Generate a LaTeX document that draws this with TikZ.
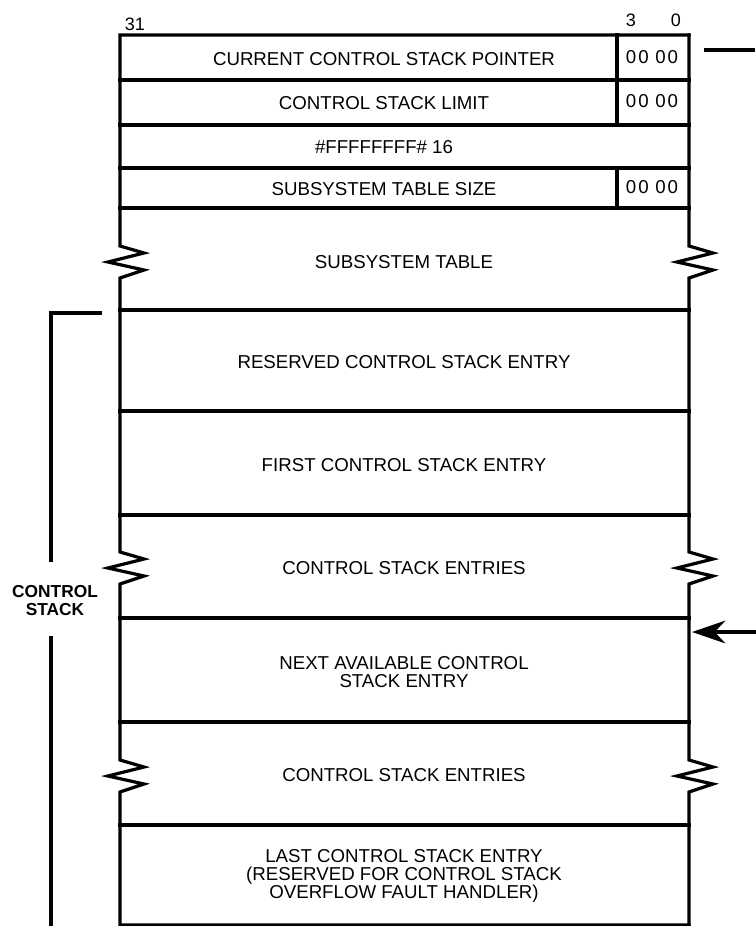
\documentclass[tikz,border=0pt]{standalone}
\usepackage{fontspec}
\setmainfont{Liberation Sans}
\usetikzlibrary{arrows.meta}

\newcommand\zigzag{-- ++(24,7) -- ++(-36,9) -- ++(36,8) -- ++(-24,8)}
\newcommand\zerobits{0\hspace{1.5pt}0\hspace{5pt}0\hspace{1.5pt}0}

\begin{document}
\begin{tikzpicture}[
        x=0.75pt, y=-0.75pt,
        frame/.style={line width=2.4pt, line cap=rect, line join=miter},
        field/.style={font=\fontsize{14}{13.5}\selectfont, align=center, inner sep=0pt},
        bitno/.style={font=\fontsize{13.5}{13.5}\selectfont, inner sep=0pt}
    ]
    \useasboundingbox (0,0) rectangle (756,926);
    \draw[frame] (689,35) -- (120,35) -- (120,246) \zigzag -- (120,552) \zigzag
        -- (120,760) \zigzag -- (120,925) -- (689,925);
    \draw[frame] (689,35) -- (689,246) \zigzag -- (689,552) \zigzag
        -- (689,760) \zigzag -- (689,925);
    \foreach \y in {80,125,168,208,310,411,515,618,722,825}
        \draw[frame] (120,\y) -- (689,\y);
    \draw[frame] (617,35) -- (617,125);
    \draw[frame] (617,168) -- (617,208);

    \node[bitno] (b31) at (135,24) {31};
    \node[bitno] (b3) at (631,20) {3};
    \node[bitno] (b0) at (676,20) {0};

    \node[field] (ptr) at (384,59) {CURRENT CONTROL STACK POINTER};
    \node[field] (ptrbits) at (652,57) {\zerobits};
    \node[field] (lim) at (384,103) {CONTROL STACK LIMIT};
    \node[field] (limbits) at (652,101) {\zerobits};
    \node[field] (mask) at (384,147) {\#FFFFFFFF\# 16};
    \node[field] (size) at (384,189) {SUBSYSTEM TABLE SIZE};
    \node[field] (sizebits) at (652,187) {\zerobits};
    \node[field] (table) at (404,262) {SUBSYSTEM TABLE};
    \node[field] (rsv) at (404,362) {RESERVED CONTROL STACK ENTRY};
    \node[field] (first) at (404,465) {FIRST CONTROL STACK ENTRY};
    \node[field] (entries) at (404,568) {CONTROL STACK ENTRIES};
    \node[field] (next) at (404,672) {NEXT AVAILABLE CONTROL\\STACK ENTRY};
    \node[field] (more) at (404,775) {CONTROL STACK ENTRIES};
    \node[field] (last) at (404,876)
        {LAST CONTROL STACK ENTRY\\(RESERVED FOR CONTROL STACK\\OVERFLOW FAULT HANDLER)};

    \node[field, font=\fontsize{13}{13.5}\selectfont\bfseries] (cs) at (55,601) {CONTROL\\STACK};
    \coordinate (csTop) at (100,313);
    \draw[frame] (csTop) -| (51,560);
    \draw[frame] (51,638) -- (51,926);

    \coordinate (ptrOut) at (706,50);
    \coordinate (ptrEnd) at (753,50);
    \draw[frame] (ptrOut) -- (ptrEnd);
    \coordinate (nextFrom) at (756,632);
    \coordinate (nextIn) at (692,632);
    \draw[frame, line cap=butt, -{Stealth[length=25pt,width=17pt,inset=8pt]}] (nextFrom) -- (nextIn);
\end{tikzpicture}
\end{document}
